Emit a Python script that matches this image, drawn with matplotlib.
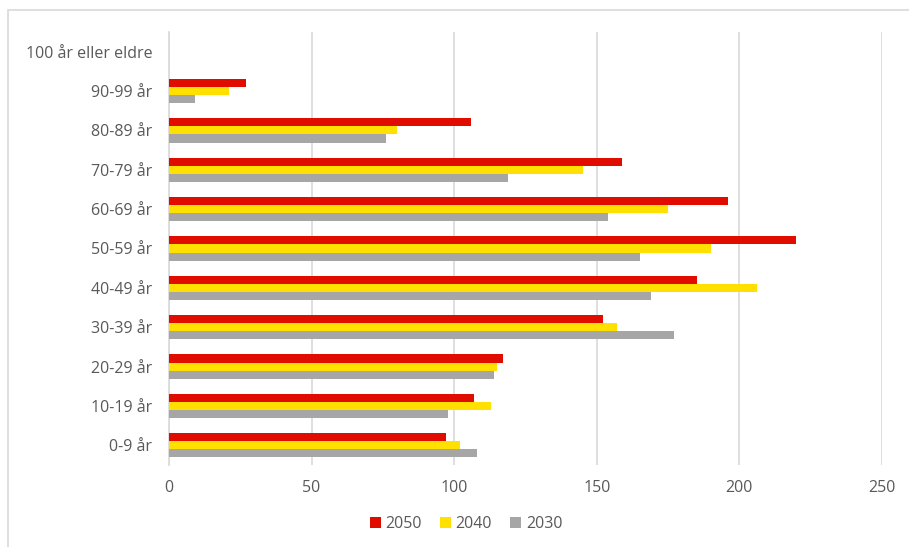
import numpy as np
import matplotlib.pyplot as plt
from matplotlib.patches import Rectangle

# Data (bottom to top)
categories = ['0-9 år', '10-19 år', '20-29 år', '30-39 år', '40-49 år',
              '50-59 år', '60-69 år', '70-79 år', '80-89 år', '90-99 år',
              '100 år eller eldre']
values_2050 = [97, 107, 117, 152, 185, 220, 196, 159, 106, 27, 0]
values_2040 = [102, 113, 115, 157, 206, 190, 175, 145, 80, 21, 0]
values_2030 = [108, 98, 114, 177, 169, 165, 154, 119, 76, 9, 0]
xticks = [0, 50, 100, 150, 200, 250]

plt.rcParams['font.family'] = ['Open Sans', 'DejaVu Sans']
text_color = '#595959'

fig = plt.figure(figsize=(9.09, 5.47), dpi=100)
ax = fig.add_axes([169 / 909, 1 - 465 / 547, (882 - 169) / 909, (465 - 32) / 547])

# chart border
fig.patches.append(Rectangle((8 / 909, -0.05), 1.05, 1 - 10 / 547 + 0.05,
                             transform=fig.transFigure, fill=False,
                             edgecolor='#d9d9d9', linewidth=1.2))

y = np.arange(len(categories))
h = 0.205
ax.barh(y + h, values_2050, height=h, color='#E00C00', label='2050', zorder=3)
ax.barh(y, values_2040, height=h, color='#FFE000', label='2040', zorder=3)
ax.barh(y - h, values_2030, height=h, color='#A6A6A6', label='2030', zorder=3)

ax.set_xlim(0, 250)
ax.set_ylim(-0.5, len(categories) - 0.5)
ax.set_xticks(xticks)
ax.set_yticks(y)
ax.set_yticklabels(categories)
ax.xaxis.grid(True, color='#d9d9d9', linewidth=1.2, zorder=0)
ax.tick_params(length=0, labelsize=11.5, colors=text_color)
ax.tick_params(axis='x', pad=11)
ax.tick_params(axis='y', pad=12)
for s in ['top', 'right', 'bottom']:
    ax.spines[s].set_visible(False)
ax.spines['left'].set_color('#d9d9d9')
ax.spines['left'].set_linewidth(1.2)

leg = fig.legend(loc='center', bbox_to_anchor=(466 / 909, 1 - 524 / 547), ncol=3,
                 frameon=False, fontsize=11.5, handlelength=0.7, handleheight=0.7,
                 handletextpad=0.3, columnspacing=1.1)
for t in leg.get_texts():
    t.set_color(text_color)

fig.savefig('out.png', dpi=100)
